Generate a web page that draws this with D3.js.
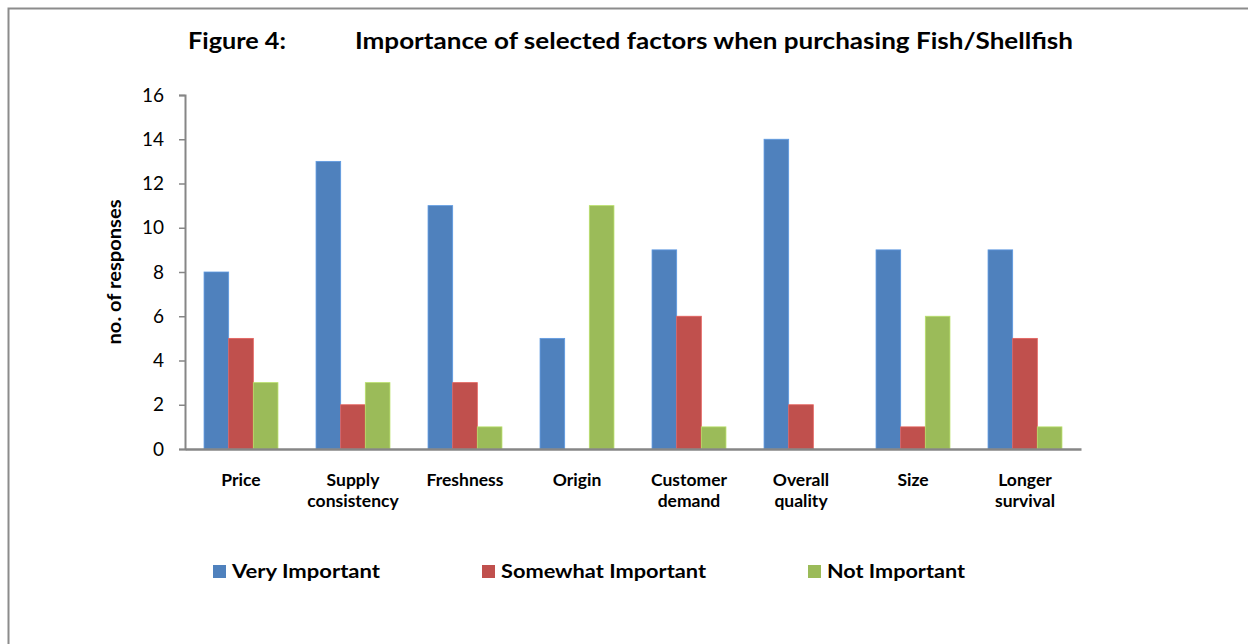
<!DOCTYPE html>
<html>
<head>
<meta charset="utf-8">
<script src="https://cdn.jsdelivr.net/npm/d3@7"></script>
<style>
  html, body { margin: 0; padding: 0; background: #fff; }
  svg { display: block; }
  text { font-family: Lato, "Open Sans", sans-serif; fill: #000; }
</style>
</head>
<body>
<svg id="chart" width="1248" height="644"></svg>
<script>
// Survey responses per purchasing factor
const categories = [
  ["Price"], ["Supply", "consistency"], ["Freshness"], ["Origin"],
  ["Customer", "demand"], ["Overall", "quality"], ["Size"], ["Longer", "survival"]
];
const seriesNames = ["Very Important", "Somewhat Important", "Not Important"];
const veryImportant     = [8, 13, 11, 5, 9, 14, 9, 9];
const somewhatImportant = [5, 2, 3, 0, 6, 2, 1, 5];
const notImportant      = [3, 3, 1, 11, 1, 0, 6, 1];
const yTicks = [0, 2, 4, 6, 8, 10, 12, 14, 16];
const colors = ["#4F81BD", "#C0504D", "#9BBB59"];

const series = [veryImportant, somewhatImportant, notImportant];
const svg = d3.select("#chart");

// outer frame
svg.append("rect")
  .attr("x", 8.5).attr("y", 8.5)
  .attr("width", 1260).attr("height", 660)
  .attr("fill", "none").attr("stroke", "#8c8c8c").attr("stroke-width", 2);

const plot = { left: 185, right: 1081, top: 95, bottom: 449 };

const x0 = d3.scaleBand()
  .domain(d3.range(categories.length))
  .range([plot.left, plot.right])
  .paddingInner(0.34).paddingOuter(0.17);
const x1 = d3.scaleBand()
  .domain(d3.range(series.length))
  .range([0, x0.bandwidth()]);
const y = d3.scaleLinear().domain([0, 16]).range([plot.bottom, plot.top]);

// bars
const groups = svg.append("g").selectAll("g")
  .data(d3.range(categories.length))
  .join("g")
  .attr("transform", i => `translate(${x0(i)},0)`);
groups.selectAll("rect")
  .data(i => series.map((s, k) => ({ k, v: s[i] })))
  .join("rect")
  .filter(d => d.v > 0)
  .attr("x", d => x1(d.k))
  .attr("y", d => y(d.v))
  .attr("width", x1.bandwidth())
  .attr("height", d => y(0) - y(d.v))
  .attr("fill", d => colors[d.k])
  .attr("stroke", d => d3.color(colors[d.k]).brighter(0.5))
  .attr("stroke-width", 0.8);

// y axis
const yAxis = d3.axisLeft(y).tickValues(yTicks).tickSize(6).tickPadding(15);
const gy = svg.append("g").attr("transform", `translate(${plot.left},0)`).call(yAxis);
gy.select(".domain").attr("stroke", "#868686").attr("stroke-width", 2);
gy.selectAll(".tick line").attr("stroke", "#868686").attr("stroke-width", 1.5);
gy.selectAll(".tick text").style("font-size", "19px").style("font-family", "Lato, sans-serif");

// x axis line
const xAxis = d3.axisBottom(x0).tickSize(0).tickFormat("");
const gx = svg.append("g").attr("transform", `translate(0,${plot.bottom})`).call(xAxis);
gx.select(".domain").attr("stroke", "#868686").attr("stroke-width", 2.5);

// category labels
const catLabels = svg.append("g").selectAll("text")
  .data(categories)
  .join("text")
  .attr("x", (d, i) => x0(i) + x0.bandwidth() / 2)
  .attr("y", 486)
  .attr("text-anchor", "middle")
  .style("font-size", "17.5px").style("font-weight", "bold");
catLabels.selectAll("tspan")
  .data(d => d)
  .join("tspan")
  .attr("x", function () { return this.parentNode.getAttribute("x"); })
  .attr("dy", (d, j) => j === 0 ? 0 : 21)
  .text(d => d);

// y axis title
svg.append("text")
  .attr("transform", `translate(121,272) rotate(-90)`)
  .attr("text-anchor", "middle")
  .attr("textLength", 145).attr("lengthAdjust", "spacingAndGlyphs")
  .style("font-size", "19px").style("font-weight", "bold")
  .text("no. of responses");

// title
svg.append("text").attr("x", 188).attr("y", 49)
  .attr("textLength", 98).attr("lengthAdjust", "spacingAndGlyphs")
  .style("font-size", "22px").style("font-weight", "bold")
  .text("Figure 4:");
svg.append("text").attr("x", 355).attr("y", 49)
  .attr("textLength", 718).attr("lengthAdjust", "spacingAndGlyphs")
  .style("font-size", "22px").style("font-weight", "bold")
  .text("Importance of selected factors when purchasing Fish/Shellfish");

// legend
const legendX = [213, 482, 808];
const legendW = [148, 205, 138];
const lg = svg.append("g").selectAll("g")
  .data(seriesNames)
  .join("g")
  .attr("transform", (d, i) => `translate(${legendX[i]},565)`);
lg.append("rect").attr("width", 13).attr("height", 13)
  .attr("fill", (d, i) => colors[i]);
lg.append("text").attr("x", 19).attr("y", 13)
  .attr("textLength", (d, i) => legendW[i]).attr("lengthAdjust", "spacingAndGlyphs")
  .style("font-size", "19px").style("font-weight", "bold")
  .text(d => d);
</script>
</body>
</html>
